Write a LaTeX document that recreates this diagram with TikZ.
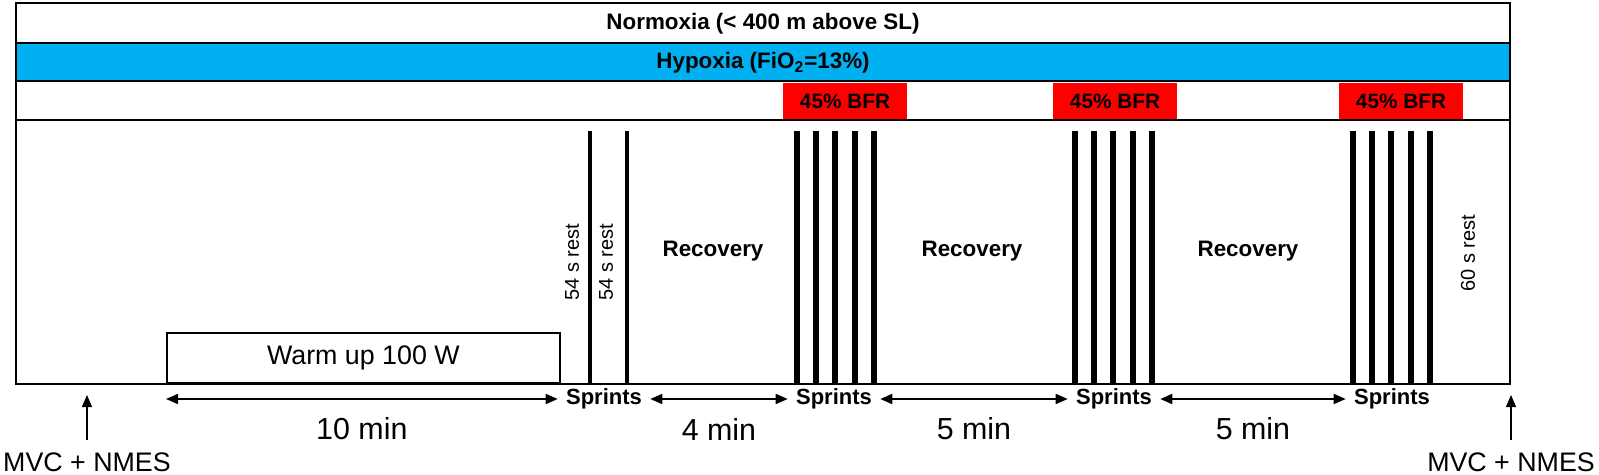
\documentclass[tikz,border=0pt]{standalone}
\usepackage{fontspec}
\setmainfont{Liberation Sans}
\usetikzlibrary{arrows.meta}
\definecolor{hypoblue}{RGB}{0,176,240}
\tikzset{>={Triangle[length=6pt,width=5pt]}}
\tikzset{
  head/.style={font=\bfseries\fontsize{11.2}{13}\selectfont},
  bfr/.style={fill=red,minimum width=62pt,minimum height=18pt,inner sep=0pt,font=\bfseries\fontsize{10.4}{12}\selectfont},
  sprint/.style={font=\bfseries\fontsize{11}{13}\selectfont,inner sep=4pt},
  recov/.style={font=\bfseries\fontsize{11.2}{13}\selectfont},
  rest/.style={rotate=90,font=\fontsize{10}{12}\selectfont},
  dur/.style={font=\fontsize{15.2}{18}\selectfont},
  mvc/.style={font=\fontsize{13.4}{16}\selectfont,inner sep=6pt},
  bar/.style={line width=3pt},
}

\begin{document}
\begin{tikzpicture}[x=0.5pt,y=-0.5pt]
    \useasboundingbox (0,0) rectangle (1599,475);

    \fill[hypoblue] (16,43) rectangle (1510,81);
    \node[bfr] (bfr1) at (845,101) {45\% BFR};
    \node[bfr] (bfr2) at (1115,101) {45\% BFR};
    \node[bfr] (bfr3) at (1401,101) {45\% BFR};

    \draw[line width=1pt] (16,3) rectangle (1510,384);
    \draw[line width=1.2pt] (16,43)--(1510,43) (16,81)--(1510,81) (16,120)--(1510,120);

    \node[head] (normoxia) at (763,24) {Normoxia (< 400 m above SL)};
    \node[head] (hypoxia) at (763,63) {Hypoxia (FiO\textsubscript{2}=13\%)};

    \node[draw,line width=0.9pt,minimum width=196.5pt,minimum height=25pt,anchor=south west,font=\fontsize{13.4}{16}\selectfont] (warmup) at (166,384) {Warm up 100 W};

    \draw[line width=1.6pt] (590,131)--(590,384);
    \draw[line width=1.6pt] (627,131)--(627,384);
    \foreach \s in {797,1075,1353}
      \foreach \i in {0,...,4}
        \draw[bar] ({\s+19.2*\i},131)--({\s+19.2*\i},384);

    \node[rest] (rest1) at (572,262) {54 s rest};
    \node[rest] (rest2) at (606,262) {54 s rest};
    \node[rest] (rest3) at (1468,253) {60 s rest};

    \node[recov] (rec1) at (713,251) {Recovery};
    \node[recov] (rec2) at (972,251) {Recovery};
    \node[recov] (rec3) at (1248,251) {Recovery};

    \node[sprint] (sp1) at (604,399) {Sprints};
    \node[sprint] (sp2) at (834,399) {Sprints};
    \node[sprint] (sp3) at (1114,399) {Sprints};
    \node[sprint] (sp4) at (1392,399) {Sprints};

    \draw[<->,line width=0.8pt] (warmup.south west |- sp1) -- (sp1.west) node[dur,midway,yshift=-15pt] (t10) {10 min};
    \draw[<->,line width=0.8pt] (sp1.east) -- (sp2.west) node[dur,midway,yshift=-15pt] (t4) {4 min};
    \draw[<->,line width=0.8pt] (sp2.east) -- (sp3.west) node[dur,midway,yshift=-15pt] (t5a) {5 min};
    \draw[<->,line width=0.8pt] (sp3.east) -- (sp4.west) node[dur,midway,yshift=-15pt] (t5b) {5 min};

    \node[mvc] (mvcL) at (87,462) {MVC + NMES};
    \node[mvc] (mvcR) at (1511,462) {MVC + NMES};
    \coordinate (tipL) at (87,395);
    \coordinate (tipR) at (1511,395);
    \draw[->,line width=0.6pt] (mvcL) -- (tipL);
    \draw[->,line width=0.6pt] (mvcR) -- (tipR);
\end{tikzpicture}
\end{document}
